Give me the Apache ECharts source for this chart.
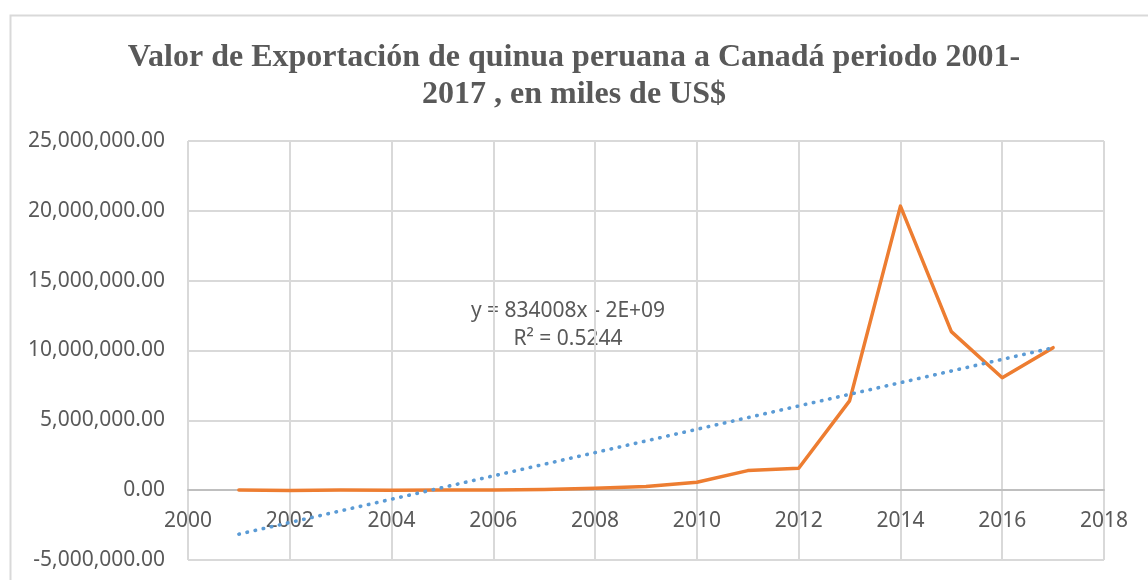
<!DOCTYPE html>
<html>
<head>
<meta charset="utf-8">
<script src="https://cdn.jsdelivr.net/npm/echarts@6/dist/echarts.min.js"></script>
<style>
  html, body { margin: 0; padding: 0; background: #fff; }
  #chart { width: 1148px; height: 580px; }
</style>
</head>
<body>
<div id="chart"></div>
<script>
// datos
const years = [2001, 2002, 2003, 2004, 2005, 2006, 2007, 2008, 2009, 2010, 2011, 2012, 2013, 2014, 2015, 2016, 2017]
const valores = [5000, -20000, 10000, -10000, 10000, 20000, 50000, 140000, 260000, 570000, 1400000, 1570000, 6390000, 20340000, 11350000, 8050000, 10200000]
// línea de tendencia (extremos leídos)
const trendYears = [2001, 2017]
const trendValores = [-3150000, 10200000]
const yTicks = { min: -5000000, max: 25000000, interval: 5000000 }
const xTicks = { min: 2000, max: 2018, interval: 2 }

const textColor = '#595959'
const gridColor = '#d9d9d9'

const gridTop = 141
const gridBottom = 20
const gridHeight = 580 - gridTop - gridBottom
// el eje x cruza en y = 0
const xAxisOffset = -gridHeight * (0 - yTicks.min) / (yTicks.max - yTicks.min)

const chart = echarts.init(document.getElementById('chart'))

chart.setOption({
  backgroundColor: '#fff',
  animation: false,
  title: {
    text: 'Valor de Exportación de quinua peruana a Canadá periodo 2001-\n2017 , en miles de US$',
    left: 'center',
    top: 34,
    textStyle: {
      fontFamily: 'Liberation Serif',
      fontWeight: 'bold',
      fontSize: 32,
      lineHeight: 37,
      color: textColor,
    },
  },
  grid: { left: 188, right: 44, top: gridTop, bottom: gridBottom, outerBoundsMode: 'none', containLabel: false },
  graphic: [
    {
      type: 'rect',
      left: 8,
      top: 13,
      shape: { width: 1200, height: 620 },
      style: { fill: 'none', stroke: '#d9d9d9', lineWidth: 2 },
      silent: true,
    },
    {
      type: 'text',
      x: 568,
      y: 297,
      style: {
        text: 'y = 834008x - 2E+09\nR² = 0.5244',
        fill: textColor,
        fontFamily: 'Noto Sans',
        fontSize: 21,
        lineHeight: 28,
        align: 'center',
        verticalAlign: 'top',
      },
    },
  ],
  xAxis: {
    type: 'value',
    min: xTicks.min,
    max: xTicks.max,
    interval: xTicks.interval,
    offset: xAxisOffset,
    axisLine: { onZero: false, lineStyle: { color: '#bfbfbf', width: 2 } },
    axisTick: { show: false },
    axisLabel: {
      color: textColor,
      fontFamily: 'Noto Sans',
      fontSize: 21,
      margin: 20,
      showMaxLabel: true,
      showMinLabel: true,
      formatter: v => String(v),
    },
    splitLine: { show: true, lineStyle: { color: gridColor, width: 2 } },
  },
  yAxis: {
    type: 'value',
    min: yTicks.min,
    max: yTicks.max,
    interval: yTicks.interval,
    axisLine: { show: false, onZero: false },
    axisTick: { show: false },
    axisLabel: {
      color: textColor,
      fontFamily: 'Noto Sans',
      fontSize: 21,
      margin: 23,
      formatter: v => v.toLocaleString('en-US', { minimumFractionDigits: 2, maximumFractionDigits: 2 }),
    },
    splitLine: { show: true, lineStyle: { color: gridColor, width: 2 } },
  },
  series: [
    {
      type: 'line',
      data: trendYears.map((y, i) => [y, trendValores[i]]),
      symbol: 'none',
      lineStyle: { color: '#5b9bd5', width: 3.6, type: [0.5, 7.8], cap: 'round' },
      z: 3,
    },
    {
      type: 'line',
      data: years.map((y, i) => [y, valores[i]]),
      symbol: 'none',
      lineStyle: { color: '#ed7d31', width: 3.5, cap: 'round', join: 'round' },
      z: 2,
    },
  ],
})
</script>
</body>
</html>
